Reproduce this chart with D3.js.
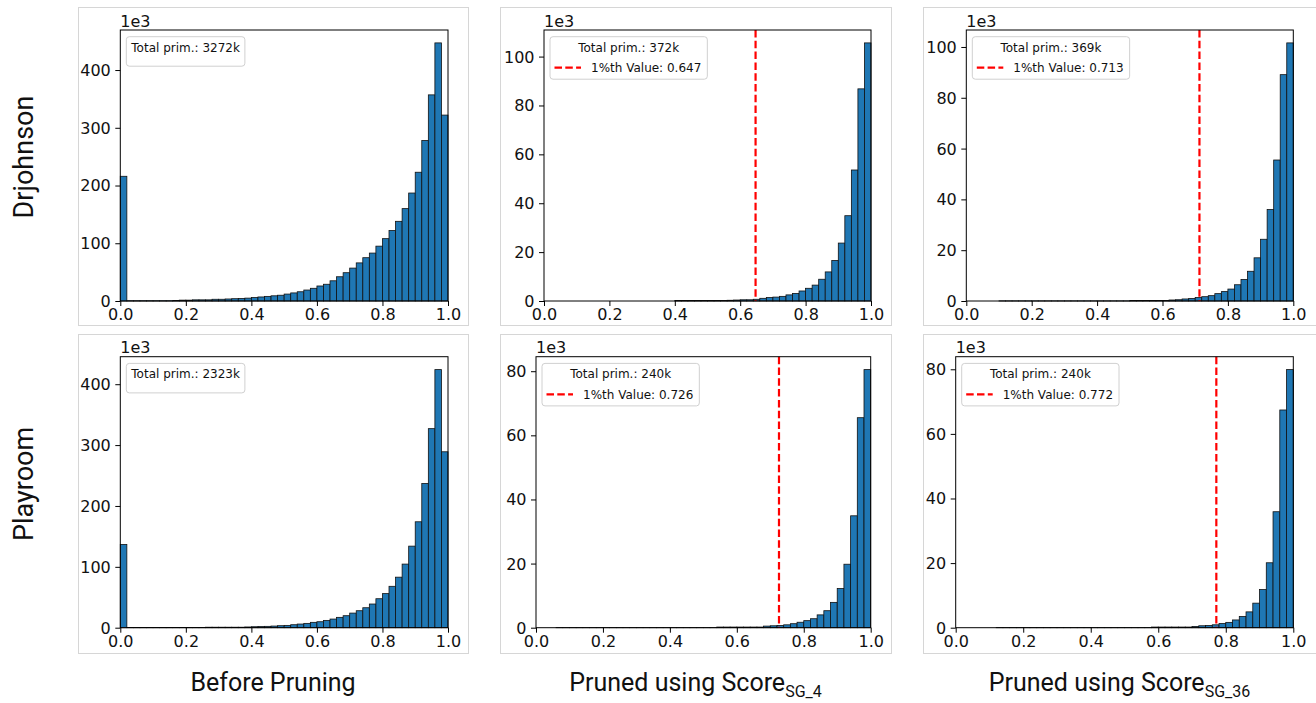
<!DOCTYPE html>
<html><head><meta charset="utf-8">
<script src="https://cdn.jsdelivr.net/npm/d3@7/dist/d3.min.js"></script>
<style>body{margin:0;background:#fff}svg{display:block}</style>
</head><body>
<svg id="c" width="1316" height="703"></svg>
<script>
// ---------- data (counts in thousands, 50 bins of width 0.02 over [0,1]) ----------
const binWidth = 0.02;
const xTicks = [0, 0.2, 0.4, 0.6, 0.8, 1.0];

const drjBefore = [216, 0.5,0.5,0.5,0.5,0.5,0.5,0.5, 1,1.5,1.5,2,2,2,3,3,3.5,4,
  4.5,5,6,7,8,9,10,12,14,16, 19,22,26,29,35,42,49,57,66,75, 83,95,108,122,138,160,187,223,278,357, 447,322];
const drjSG4 = [0,0,0,0,0,0,0,0,0,0, 0,0,0,0,0,0,0,0,0,0,
  0.2,0.2,0.2,0.2,0.2,0.2,0.2,0.2,0.3,0.4, 0.5,0.5,0.7,1.1,1.4,1.6,1.9,2.5,3.1,4.1,
  5.2,6.5,8.9,11.9,16.6,23.7,34.9,53.6,86.8,105.6];
const drjSG36 = [0,0,0,0,0,0.05,0.05,0.05,0.05,0.05, 0.05,0.05,0.05,0.05,0.05,0.05,0.05,0.05,0.05,0.05,
  0.05,0.05,0.05,0.05,0.05,0.2,0.2,0.2,0.2,0.2, 0.2,0.4,0.5,0.8,1.0,1.4,1.7,2.1,2.9,3.7,
  4.7,6.4,8.5,11.7,17,24.3,36,55.5,89.1,101.6];
const playBefore = [136.8, 0.2,0.2,0.2,0.2,0.2,0.2,0.2,0.2,0.2, 0.2,0.2,0.2,0.8,0.8,0.8,0.8,0.8,0.8,1.2,
  1.6,2,2.2,2.7,3.3,3.8,4.9,6,7.1,8.8, 9.8,12,14.2,17,19.7,24,27.9,32.8,38.9,47.6,
  56,68,83,104.5,134,174,237,327,424,289];
const playSG4 = [0,0,0,0.03,0.03,0.03,0.03,0.03,0.03,0.03, 0.03,0.03,0.03,0.03,0.03,0.03,0.03,0.03,0.03,0.03,
  0.03,0.03,0.03,0.03,0.03,0.03,0.03,0.2,0.2,0.2, 0.2,0.2,0.2,0.2,0.5,0.6,0.7,0.9,1.25,1.7,
  2.2,2.8,4.0,5.3,7.9,12.2,19.8,34.9,65.5,80.5];
const playSG36 = [0,0,0,0,0,0,0.03,0.03,0.03,0.03, 0.03,0.03,0.03,0.03,0.03,0.03,0.03,0.03,0.03,0.03,
  0.03,0.03,0.03,0.03,0.03,0.03,0.03,0.03,0.03,0.2, 0.2,0.2,0.2,0.2,0.2,0.4,0.6,0.7,0.9,1.3,
  1.65,2.4,3.5,4.9,7.6,11.8,20.1,35.9,67.4,79.9];

const seriesList = [drjBefore, drjSG4, drjSG36, playBefore, playSG4, playSG36];
const totals = ["3272k", "372k", "369k", "2323k", "240k", "240k"];
const thresholds = [null, 0.647, 0.713, null, 0.726, 0.772];
const yTickSets = [
  [0, 100, 200, 300, 400],
  [0, 20, 40, 60, 80, 100],
  [0, 20, 40, 60, 80, 100],
  [0, 100, 200, 300, 400],
  [0, 20, 40, 60, 80],
  [0, 20, 40, 60, 80]
];
const rowLabels = ["Drjohnson", "Playroom"];
const colLabels = [
  {main: "Before Pruning", sub: ""},
  {main: "Pruned using Score", sub: "SG_4"},
  {main: "Pruned using Score", sub: "SG_36"}
];

// ---------- layout ----------
const frames = [
  [78, 7, 468, 325], [500, 7, 891, 325], [923, 7, 1318, 325],
  [78, 334, 468, 653], [500, 334, 891, 653], [923, 334, 1318, 653]
];
const plots = [
  [120.3, 30, 448, 301], [544, 30, 871, 301], [966.3, 30, 1293.3, 301],
  [120.3, 356.7, 448, 627.7], [536, 356.7, 870.7, 627.7], [955.7, 356.7, 1293.3, 627.7]
];

const svg = d3.select("#c");
const tickFont = "DejaVu Sans, Verdana, sans-serif";

frames.forEach(f => {
  svg.append("rect").attr("x", f[0] + 0.5).attr("y", f[1] + 0.5)
    .attr("width", f[2] - f[0]).attr("height", f[3] - f[1])
    .attr("fill", "none").attr("stroke", "#d6d6d6").attr("stroke-width", 1);
});

seriesList.forEach((vals, k) => {
  const [x0, y0, x1, y1] = plots[k];
  const g = svg.append("g");
  const x = d3.scaleLinear().domain([0, 1]).range([x0, x1]);
  const y = d3.scaleLinear().domain([0, d3.max(vals) * 1.05]).range([y1, y0]);
  const bins = vals.map((v, i) => ({x: i * binWidth, v}));

  g.selectAll("rect.bar").data(bins.filter(d => d.v > 0)).join("rect")
    .attr("class", "bar")
    .attr("x", d => x(d.x)).attr("width", d => x(d.x + binWidth) - x(d.x))
    .attr("y", d => y(d.v)).attr("height", d => y(0) - y(d.v))
    .attr("fill", "#1f77b4").attr("stroke", "#111").attr("stroke-width", 0.8);

  if (thresholds[k] != null) {
    g.append("line").attr("x1", x(thresholds[k])).attr("x2", x(thresholds[k]))
      .attr("y1", y0).attr("y2", y1)
      .attr("stroke", "red").attr("stroke-width", 2.2).attr("stroke-dasharray", "7.5,3.3");
  }

  // axes
  const ax = g.append("g").attr("transform", `translate(0,${y1})`)
    .call(d3.axisBottom(x).tickValues(xTicks).tickFormat(d3.format(".1f")).tickSize(5).tickPadding(3));
  const ay = g.append("g").attr("transform", `translate(${x0},0)`)
    .call(d3.axisLeft(y).tickValues(yTickSets[k]).tickFormat(d3.format("d")).tickSize(5).tickPadding(4.5));
  [ax, ay].forEach(a => {
    a.select(".domain").remove();
    a.selectAll("line").attr("stroke", "#000").attr("stroke-width", 1);
    a.selectAll("text").attr("font-family", tickFont).attr("font-size", 16).attr("fill", "#111");
  });
  ay.selectAll("text").attr("dy", "0.34em");

  g.append("rect").attr("x", x0).attr("y", y0).attr("width", x1 - x0).attr("height", y1 - y0)
    .attr("fill", "none").attr("stroke", "#000").attr("stroke-width", 1);

  g.append("text").attr("x", x0).attr("y", y0 - 3.5).text("1e3")
    .attr("font-family", tickFont).attr("font-size", 16).attr("fill", "#111");

  // legend
  const lg = g.append("g").attr("transform", `translate(${x0 + 6},${y0 + 6.7})`);
  const box = lg.append("rect");
  const title = lg.append("text").text("Total prim.: " + totals[k])
    .attr("font-family", tickFont).attr("font-size", 12).attr("fill", "#111");
  const tw = title.node().getComputedTextLength();
  let w, h;
  if (thresholds[k] == null) {
    w = tw + 10; h = 29.5;
    title.attr("x", 5).attr("y", 15);
  } else {
    const et = lg.append("text").text("1%th Value: " + thresholds[k].toFixed(3))
      .attr("x", 41).attr("y", 35.5)
      .attr("font-family", tickFont).attr("font-size", 12).attr("fill", "#111");
    const ew = 41 + et.node().getComputedTextLength() + 6;
    w = Math.max(tw + 10, ew); h = 42.5;
    title.attr("x", w / 2).attr("y", 15).attr("text-anchor", "middle");
    lg.append("line").attr("x1", 4.5).attr("x2", 31).attr("y1", 31).attr("y2", 31)
      .attr("stroke", "red").attr("stroke-width", 2.2).attr("stroke-dasharray", "7.5,3.3");
  }
  box.attr("width", w).attr("height", h).attr("rx", 3)
    .attr("fill", "#fff").attr("fill-opacity", 0.8).attr("stroke", "#d0d0d0").attr("stroke-width", 1);
});

// row labels
const labFont = "Roboto, 'Open Sans', sans-serif";
const rowCenters = [157, 484];
rowLabels.forEach((t, i) => {
  svg.append("text").attr("transform", `translate(33,${rowCenters[i]}) rotate(-90)`)
    .attr("text-anchor", "middle").attr("font-family", labFont).attr("font-size", 27)
    .attr("fill", "#111").text(t);
});

// column labels (centred under each column's frame)
colLabels.forEach((c, i) => {
  const f = frames[i];
  const cx = (f[0] + Math.min(f[2], 1316)) / 2 + (i === 2 ? 0 : 0);
  const t = svg.append("text").attr("y", 691).attr("font-family", labFont).attr("font-size", 25)
    .attr("fill", "#111");
  t.append("tspan").text(c.main);
  if (c.sub) t.append("tspan").text(c.sub).attr("font-size", 16).attr("dy", 6);
  const wTot = t.node().getComputedTextLength();
  t.attr("x", cx - wTot / 2);
});
</script>
</body></html>
